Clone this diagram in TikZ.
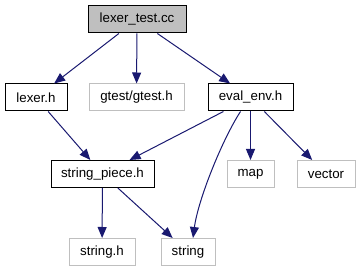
\documentclass[tikz,border=0pt]{standalone}
\usepackage{fontspec}
\setmainfont{Liberation Sans}
\usetikzlibrary{arrows.meta}
\definecolor{edgeblue}{HTML}{191970}
\definecolor{extgray}{HTML}{BFBFBF}
\definecolor{rootfill}{HTML}{BFBFBF}
\begin{document}
\begin{tikzpicture}[x=1pt,y=-1pt,
  box/.style={rectangle, line width=1pt, fill=white, inner sep=0pt,
    font=\fontsize{13.3}{16}\selectfont},
  localfile/.style={box, draw=black},
  rootfile/.style={box, draw=black, fill=rootfill},
  sysfile/.style={box, draw=extgray},
  dep/.style={draw=edgeblue, line width=1pt,
    -{Triangle[length=11pt,width=9pt]}}]
\useasboundingbox (0,0) rectangle (361,272);

% files
\node[rootfile,  minimum width=98pt,  minimum height=27pt] (test)   at (137,19.5)  {lexer\_test.cc};
\node[localfile, minimum width=62pt,  minimum height=27pt] (lexer)  at (36,97.5)   {lexer.h};
\node[sysfile,   minimum width=95pt,  minimum height=27pt] (gtest)  at (136.5,97.5){gtest/gtest.h};
\node[localfile, minimum width=85pt,  minimum height=27pt] (env)    at (250.5,97.5){eval\_env.h};
\node[localfile, minimum width=103pt, minimum height=27pt] (piece)  at (102.5,174) {string\_piece.h};
\node[sysfile,   minimum width=47pt,  minimum height=27pt] (map)    at (250.5,174) {map};
\node[sysfile,   minimum width=58pt,  minimum height=27pt] (vector) at (326,174)   {vector};
\node[sysfile,   minimum width=66pt,  minimum height=27pt] (strh)   at (102,252)   {string.h};
\node[sysfile,   minimum width=54pt,  minimum height=27pt] (string) at (188,252)   {string};

% include edges
\draw[dep] (test) -- (lexer);
\draw[dep] (test) -- (gtest);
\draw[dep] (test) -- (env);
\draw[dep] (lexer) -- (piece);
\draw[dep] (env) -- (piece);
\draw[dep] ([xshift=-10pt]env.south) .. controls (222,140) and (198,200) .. ([xshift=5pt]string.north);
\draw[dep] (env) -- (map);
\draw[dep] (env) -- (vector);
\draw[dep] (piece) -- (strh);
\draw[dep] (piece) -- (string);
\end{tikzpicture}
\end{document}
